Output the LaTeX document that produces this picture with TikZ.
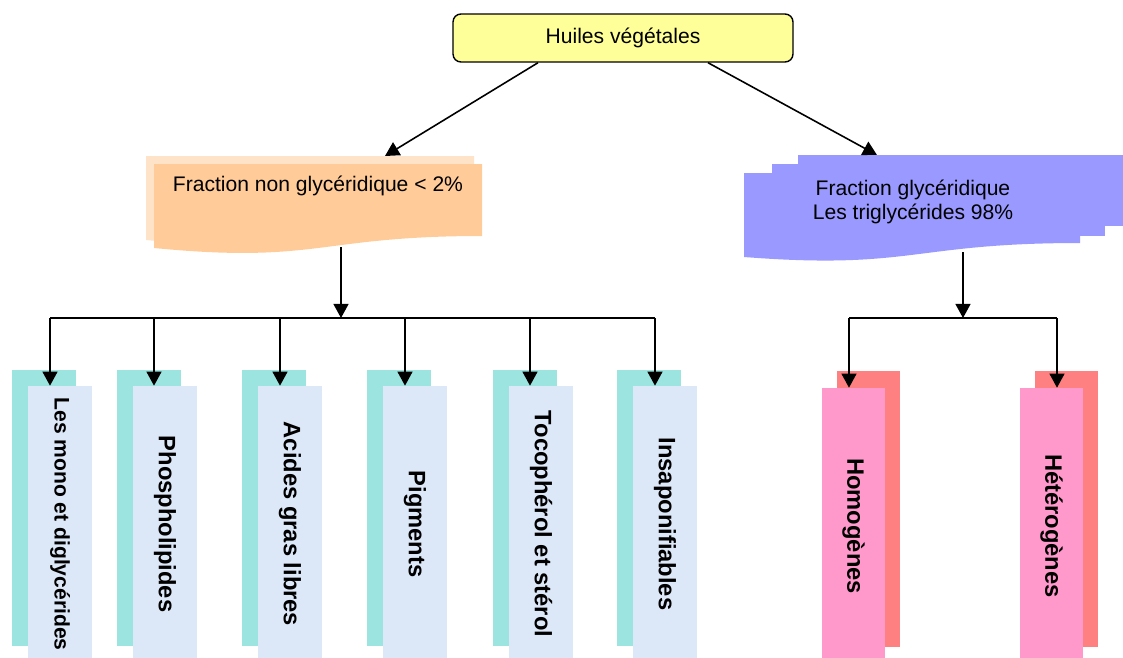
\documentclass[tikz,border=0pt]{standalone}
\usepackage{fontspec}
\setmainfont{Liberation Sans}
\usetikzlibrary{arrows.meta,shadows}
\definecolor{jaune}{HTML}{FFFF99}
\definecolor{peche}{HTML}{FFCC99}
\definecolor{pecheclair}{HTML}{FFE3C8}
\definecolor{lavande}{HTML}{9999FF}
\definecolor{turquoise}{HTML}{9CE4E0}
\definecolor{bleuclair}{HTML}{DCE8F8}
\definecolor{rouge}{HTML}{FF8080}
\definecolor{rose}{HTML}{FF99CC}
\tikzset{
    titre/.style={
           rectangle, rounded corners=4.5pt,
           draw=black, line width=0.8pt,
           fill=jaune,
           minimum width=6.8cm, minimum height=0.96cm,
           font=\fontsize{12}{14}\selectfont,
           },
}
\tikzset{
    texte/.style={
           align=center, inner sep=0pt,
           font=\fontsize{12}{13.8}\selectfont,
           },
}
\tikzset{
    colonne/.style={
           rectangle, fill=bleuclair,
           minimum width=1.28cm, minimum height=5.52cm,
           inner sep=0pt,
           font=\bfseries\fontsize{13.5}{15}\selectfont,
           general shadow={fill=turquoise, shadow xshift=-0.32cm, shadow yshift=0.32cm},
           },
}
\tikzset{
    classe/.style={
           rectangle, fill=rose,
           minimum width=1.26cm, minimum height=5.52cm,
           inner sep=0pt,
           font=\bfseries\fontsize{13.5}{15}\selectfont,
           general shadow={fill=rouge, shadow xshift=0.3cm, shadow yshift=0.34cm},
           },
}
\tikzset{
    fleche/.style={-{Triangle[length=8pt,width=8.5pt]}, line width=0.9pt},
    trait/.style={line width=0.9pt},
}

\begin{document}
\begin{tikzpicture}[x=0.02cm,y=-0.02cm]
\useasboundingbox (0,0) rectangle (1123,657);
% fraction non glyceridique
\fill[pecheclair] (146,156) -- (474,156) -- (474,228) .. controls (310,228) and (310,256) .. (146,240) -- cycle;
\fill[peche] (154,164) -- (482,164) -- (482,236) .. controls (318,236) and (318,264) .. (154,248) -- cycle;
% fraction glyceridique
\fill[lavande] (798,155) rectangle (1134,226);
\fill[lavande] (772,164) rectangle (1105,236);
\fill[lavande] (744,173) -- (1080,173) -- (1080,243) .. controls (912,243) and (912,270) .. (744,257) -- cycle;

\node[titre](hv) at (623,38){Huiles végétales};
\node[texte](fng) at (318,186){Fraction non glycéridique < 2\%};
\node[texte](fg) at (913,202){Fraction glycéridique\\Les triglycérides 98\%};

\node[colonne,font=\bfseries\fontsize{12}{14}\selectfont](c1) at (60,524){\rotatebox{-90}{Les mono et diglycérides}};
\node[colonne](c2) at (165,524){\rotatebox{-90}{Phospholipides}};
\node[colonne](c3) at (290,524){\rotatebox{-90}{Acides gras libres}};
\node[colonne](c4) at (415,524){\rotatebox{-90}{Pigments}};
\node[colonne](c5) at (541,524){\rotatebox{-90}{Tocophérol et stérol}};
\node[colonne](c6) at (665,524){\rotatebox{-90}{Insaponifiables}};
\node[classe](homo) at (853.5,526){\rotatebox{-90}{Homogènes}};
\node[classe](hetero) at (1051.5,526){\rotatebox{-90}{Hétérogènes}};

\coordinate (ofng) at (385,156);
\coordinate (ofg) at (877,155);
\coordinate (bfng) at (341,247);
\coordinate (bfg) at (963,252);
\coordinate (b1) at (50,318);
\coordinate (b2) at (154,318);
\coordinate (b3) at (280,318);
\coordinate (b4) at (405,318);
\coordinate (b5) at (530,318);
\coordinate (b6) at (655,318);
\coordinate (r1) at (849,318);
\coordinate (r2) at (1057,318);

\draw[fleche] ([xshift=-1.7cm]hv.south) -- (ofng);
\draw[fleche] ([xshift=1.7cm]hv.south) -- (ofg);
\draw[fleche] (bfng) -- (bfng |- b1);
\draw[fleche] (bfg) -- (bfg |- r1);
\draw[trait] (b1) -- (b6);
\draw[trait] (r1) -- (r2);
\draw[fleche] (b1) -- (b1 |- c1.north);
\draw[fleche] (b2) -- (b2 |- c2.north);
\draw[fleche] (b3) -- (b3 |- c3.north);
\draw[fleche] (b4) -- (b4 |- c4.north);
\draw[fleche] (b5) -- (b5 |- c5.north);
\draw[fleche] (b6) -- (b6 |- c6.north);
\draw[fleche] (r1) -- (r1 |- homo.north);
\draw[fleche] (r2) -- (r2 |- hetero.north);
\end{tikzpicture}
\end{document}
